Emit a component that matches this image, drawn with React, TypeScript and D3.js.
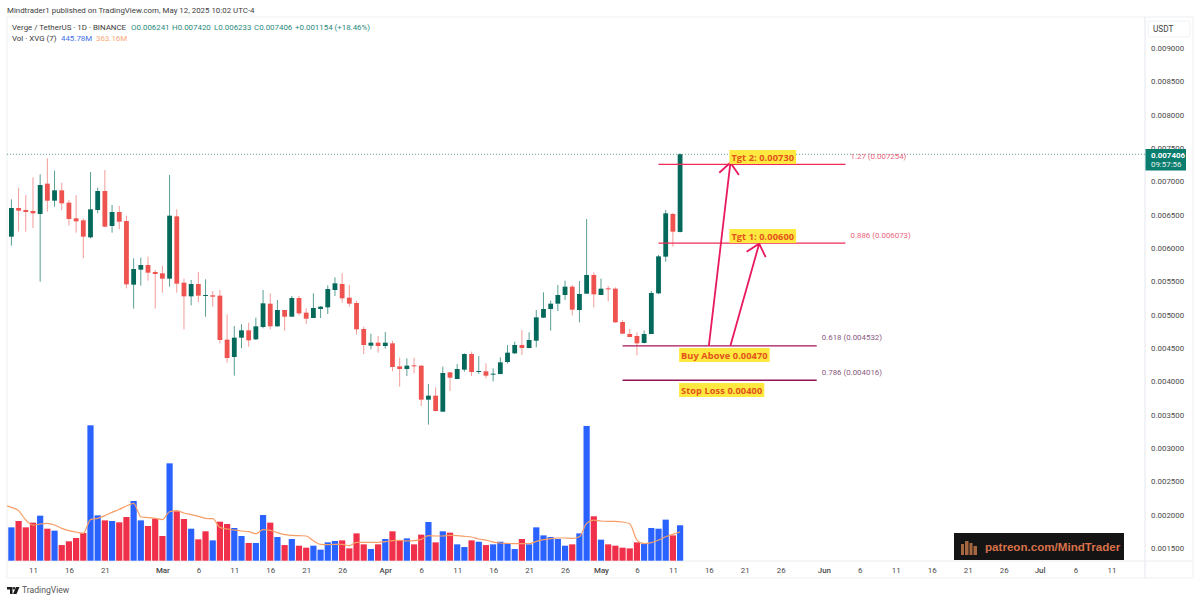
import React, { useEffect, useRef } from 'react';
import * as d3 from 'd3';

const width = 1200;
const height = 602;

// daily candles, first one is Feb 8 2025
const opens = [
  0.00617, 0.0066, 0.00657, 0.006555, 0.00651, 0.006965, 0.00671, 0.006865, 0.00668, 0.006445,
  0.006415, 0.00616, 0.00657, 0.006855, 0.00633, 0.00654, 0.006405, 0.00545, 0.005675, 0.005745,
  0.00564, 0.00562, 0.00554, 0.006475, 0.00548, 0.005275, 0.00546, 0.005285, 0.00529, 0.005285,
  0.004625, 0.004365, 0.004655, 0.004765, 0.00463, 0.004815, 0.005165, 0.004825, 0.00507, 0.00497,
  0.00525, 0.00503, 0.00495, 0.005085, 0.00511, 0.00537, 0.00546, 0.005255, 0.005175, 0.004785,
  0.004535, 0.00458, 0.00453, 0.00457, 0.004225, 0.004185, 0.00424, 0.004235, 0.003725, 0.003785,
  0.003545, 0.004135, 0.004035, 0.004175, 0.00441, 0.00414, 0.00415, 0.0041, 0.00411, 0.00429,
  0.00442, 0.004545, 0.0045, 0.00461, 0.004955, 0.005085, 0.005165, 0.005295, 0.00542, 0.00507,
  0.005315, 0.005595, 0.005295, 0.005395, 0.00539, 0.00489, 0.00471, 0.00468, 0.004575, 0.00471,
  0.00532, 0.00587, 0.00651, 0.006241,
];
const highs = [
  0.00673, 0.006905, 0.006795, 0.00706, 0.007105, 0.007345, 0.00716, 0.00698, 0.00672, 0.006795,
  0.006445, 0.00714, 0.006905, 0.00717, 0.006645, 0.00663, 0.006485, 0.005845, 0.005855, 0.00587,
  0.00567, 0.005735, 0.007095, 0.00658, 0.00554, 0.00552, 0.00564, 0.00553, 0.005355, 0.00537,
  0.005005, 0.00483, 0.004855, 0.00488, 0.004955, 0.00537, 0.00532, 0.00522, 0.00507, 0.00528,
  0.00528, 0.005095, 0.00532, 0.00513, 0.00544, 0.00556, 0.00562, 0.005445, 0.00521, 0.00482,
  0.004715, 0.00468, 0.00474, 0.00461, 0.004355, 0.004345, 0.004355, 0.00424, 0.00396, 0.00391,
  0.00422, 0.004135, 0.00426, 0.00442, 0.004445, 0.00438, 0.00427, 0.004195, 0.00436, 0.004545,
  0.004595, 0.00477, 0.004735, 0.00507, 0.005335, 0.00521, 0.005445, 0.00551, 0.005445, 0.005505,
  0.006435, 0.005635, 0.00554, 0.00543, 0.00541, 0.00492, 0.004785, 0.004735, 0.00476, 0.005355,
  0.005895, 0.00657, 0.00653, 0.00742,
];
const lows = [
  0.006035, 0.006245, 0.006245, 0.0063, 0.005495, 0.006545, 0.00662, 0.00657, 0.006335, 0.00623,
  0.005845, 0.006145, 0.00652, 0.00631, 0.00623, 0.00628, 0.005395, 0.00509, 0.005435, 0.00551,
  0.00509, 0.00533, 0.00542, 0.00533, 0.00478, 0.00514, 0.00519, 0.00497, 0.00512, 0.00457,
  0.00428, 0.004085, 0.004495, 0.00452, 0.00462, 0.004795, 0.00478, 0.00482, 0.00476, 0.00497,
  0.00499, 0.00486, 0.00495, 0.00495, 0.00501, 0.00528, 0.00518, 0.00512, 0.0047, 0.00441,
  0.00448, 0.00443, 0.00449, 0.00415, 0.00392, 0.00408, 0.00412, 0.00363, 0.00335, 0.003545,
  0.003545, 0.003855, 0.004035, 0.004145, 0.00408, 0.00411, 0.004045, 0.004, 0.004105, 0.00427,
  0.00441, 0.004395, 0.004495, 0.00451, 0.00495, 0.00476, 0.005055, 0.00522, 0.00499, 0.004885,
  0.00531, 0.00511, 0.005295, 0.0052, 0.00488, 0.00471, 0.00466, 0.00439, 0.00457, 0.00471,
  0.00531, 0.005795, 0.00602, 0.006233,
];
const closes = [
  0.0066, 0.00656, 0.00654, 0.00652, 0.006945, 0.00671, 0.006865, 0.00667, 0.006435, 0.0064,
  0.00617, 0.00658, 0.006855, 0.00632, 0.00654, 0.006395, 0.005455, 0.005685, 0.005745, 0.00563,
  0.00561, 0.00554, 0.006485, 0.005465, 0.005275, 0.00546, 0.005285, 0.005295, 0.00527, 0.00462,
  0.00435, 0.004655, 0.004765, 0.004615, 0.004825, 0.00517, 0.004825, 0.00507, 0.00497, 0.00525,
  0.00502, 0.00494, 0.0051, 0.00512, 0.005385, 0.00547, 0.005245, 0.005165, 0.00478, 0.004545,
  0.00458, 0.00453, 0.00458, 0.004215, 0.004185, 0.004235, 0.004225, 0.003725, 0.003785, 0.003555,
  0.004125, 0.004055, 0.004185, 0.00441, 0.00414, 0.004155, 0.004085, 0.004115, 0.004285, 0.00443,
  0.004545, 0.0045, 0.00462, 0.00496, 0.005085, 0.005165, 0.005295, 0.00542, 0.005075, 0.00531,
  0.005595, 0.005305, 0.00539, 0.00538, 0.004885, 0.004715, 0.004665, 0.00457, 0.00471, 0.005325,
  0.005875, 0.00652, 0.006245, 0.007406,
];

// volume in millions
const volumes = [
  420, 500, 420, 479, 567, 403, 378, 197, 244, 286,
  349, 1705, 571, 508, 500, 483, 550, 752, 508, 437,
  529, 311, 1226, 622, 525, 403, 269, 370, 256, 491,
  462, 412, 311, 223, 223, 575, 479, 298, 197, 273,
  189, 164, 189, 139, 231, 248, 256, 155, 344, 206,
  147, 206, 273, 370, 256, 281, 206, 328, 487, 231,
  370, 353, 206, 172, 256, 239, 197, 206, 239, 214,
  147, 273, 206, 420, 319, 298, 273, 189, 206, 344,
  1697, 559, 265, 206, 189, 164, 155, 231, 214, 412,
  403, 517, 319, 446,
];
// 1 = blue bar, 0 = red bar
const volumeUp = [
  1, 0, 0, 0, 1, 0, 1, 0, 0, 0,
  0, 1, 1, 0, 1, 0, 0, 1, 1, 0,
  0, 0, 1, 0, 0, 1, 0, 0, 1, 0,
  0, 1, 1, 0, 1, 1, 0, 1, 0, 1,
  0, 0, 1, 1, 1, 1, 0, 0, 0, 0,
  1, 0, 1, 0, 0, 1, 0, 0, 1, 0,
  1, 0, 1, 1, 0, 1, 0, 1, 1, 1,
  1, 0, 1, 1, 1, 1, 1, 1, 0, 1,
  1, 0, 1, 0, 0, 0, 0, 0, 1, 1,
  1, 1, 0, 1,
];
// volume MA, starts one bar earlier (Feb 7)
const volumeMa = [
  693, 672, 630, 512, 449, 462, 470, 449, 407, 378,
  361, 344, 517, 533, 567, 609, 647, 689, 722, 554,
  542, 533, 517, 617, 630, 601, 580, 559, 533, 529,
  420, 399, 386, 374, 365, 340, 391, 382, 353, 328,
  319, 315, 311, 252, 206, 202, 206, 206, 189, 231,
  231, 231, 231, 239, 252, 256, 248, 252, 269, 315,
  311, 311, 319, 315, 307, 298, 273, 260, 235, 223,
  218, 214, 214, 214, 244, 265, 277, 286, 286, 281,
  302, 470, 512, 500, 496, 496, 487, 466, 260, 214,
  227, 260, 302, 332, 363,
];

const priceTicks = [
  0.009, 0.0085, 0.008, 0.0075, 0.007, 0.0065, 0.006, 0.0055, 0.005,
  0.0045, 0.004, 0.0035, 0.003, 0.0025, 0.002, 0.0015,
];
const timeTicks = [
  '2025-02-11', '2025-02-16', '2025-02-21', '2025-03-01', '2025-03-06', '2025-03-11',
  '2025-03-16', '2025-03-21', '2025-03-26', '2025-04-01', '2025-04-06', '2025-04-11',
  '2025-04-16', '2025-04-21', '2025-04-26', '2025-05-01', '2025-05-06', '2025-05-11',
  '2025-05-16', '2025-05-21', '2025-05-26', '2025-06-01', '2025-06-06', '2025-06-11',
  '2025-06-16', '2025-06-21', '2025-06-26', '2025-07-01', '2025-07-06', '2025-07-11',
];

// drawn levels: price, first and last bar, fib text, colours
const levelPrices = [0.007254, 0.006073, 0.004532, 0.004016];
const levelFromBar = [90, 90, 85, 85];
const levelToBar = [116, 116, 112, 112];
const levelTexts = ['1.27 (0.007254)', '0.886 (0.006073)', '0.618 (0.004532)', '0.786 (0.004016)'];
const levelColors = ['#ee2c55', '#ee2c55', '#a8145c', '#8f1558'];
const levelTextColors = ['#e8667c', '#e8667c', '#8a5a80', '#8a5a80'];

const noteTexts = ['Tgt 2: 0.00730', 'Tgt 1: 0.00600', 'Buy Above 0.00470', 'Stop Loss 0.00400'];
const noteBars = [100, 100, 93, 93];
const noteBoxPrices = [0.00747, 0.006285, 0.0045, 0.003975];

// arrows: bar and price of tail and tip
const arrowTails = [[97, 0.004532], [100, 0.004532]];
const arrowTips = [[100, 0.00728], [104, 0.006065]];

const ui = 'Roboto, sans-serif';
const uiSize = 7.9;
const green = '#04695a';
const red = '#ef5350';

const barDate = (i: number) => new Date(Date.UTC(2025, 1, 8 + i));

export default function App() {
  const svgRef = useRef<SVGSVGElement>(null);

  useEffect(() => {
    if (!svgRef.current) return;
    const svg = d3.select(svgRef.current);
    svg.selectAll('*').remove();

    const paneLeft = 7;
    const paneRight = 1145;
    const paneTop = 17;
    const paneBottom = 561;
    const frameRight = 1193;
    const frameBottom = 578;

    const x = d3.scaleUtc()
      .domain([barDate(0), new Date(Date.UTC(2025, 6, 11))])
      .range([11.4, 1111.5]);
    const y = d3.scaleLinear().domain([0.0015, 0.009]).range([548, 48]);
    const yVol = d3.scaleLinear().domain([0, 1705]).range([560.7, 425.3]);
    const xBar = (i: number) => x(barDate(i));

    svg.append('rect').attr('width', width).attr('height', height).attr('fill', '#fff');

    svg.append('text')
      .attr('x', 7).attr('y', 13)
      .attr('font-family', ui).attr('font-size', uiSize).attr('fill', '#3d3d3d')
      .text('Mindtrader1 published on TradingView.com, May 12, 2025 10:02 UTC-4');

    // frame
    svg.append('rect')
      .attr('x', paneLeft).attr('y', paneTop)
      .attr('width', frameRight - paneLeft).attr('height', frameBottom - paneTop)
      .attr('fill', 'none').attr('stroke', '#eef0f3');
    svg.append('line')
      .attr('x1', paneRight).attr('x2', paneRight).attr('y1', paneTop).attr('y2', frameBottom)
      .attr('stroke', '#e3e6ec');
    svg.append('line')
      .attr('x1', paneLeft).attr('x2', frameRight).attr('y1', paneBottom).attr('y2', paneBottom)
      .attr('stroke', '#e9ecf0');

    svg.append('defs').append('clipPath').attr('id', 'pane')
      .append('rect')
      .attr('x', paneLeft).attr('y', paneTop)
      .attr('width', paneRight - paneLeft).attr('height', paneBottom - paneTop);
    const g = svg.append('g').attr('clip-path', 'url(#pane)');

    // volume bars
    const barW = 6.2;
    g.append('g').selectAll('rect')
      .data(volumes)
      .join('rect')
      .attr('x', (_, i) => xBar(i) - barW / 2)
      .attr('y', d => yVol(d))
      .attr('width', barW)
      .attr('height', d => yVol(0) - yVol(d))
      .attr('fill', (_, i) => (volumeUp[i] ? '#2962ff' : '#f0304a'));

    // volume MA
    const maLine = d3.line<number>()
      .x((_, i) => xBar(i - 1))
      .y(d => yVol(d))
      .curve(d3.curveMonotoneX);
    g.append('path')
      .attr('d', maLine(volumeMa))
      .attr('fill', 'none')
      .attr('stroke', '#f79d66')
      .attr('stroke-width', 1.2);

    // last price line
    g.append('line')
      .attr('x1', paneLeft).attr('x2', paneRight)
      .attr('y1', y(closes[93])).attr('y2', y(closes[93]))
      .attr('stroke', '#5f9f95').attr('stroke-dasharray', '1 2');

    // candles
    const isUp = (i: number) => closes[i] >= opens[i];
    const bodyW = 4.8;
    const candles = g.append('g').selectAll('g')
      .data(opens)
      .join('g');
    candles.append('line')
      .attr('x1', (_, i) => xBar(i)).attr('x2', (_, i) => xBar(i))
      .attr('y1', (_, i) => y(highs[i])).attr('y2', (_, i) => y(lows[i]))
      .attr('stroke', (_, i) => (isUp(i) ? '#5a9f94' : '#f29c99'))
      .attr('stroke-width', 1);
    candles.append('rect')
      .attr('x', (_, i) => xBar(i) - bodyW / 2)
      .attr('y', (d, i) => y(Math.max(d, closes[i])))
      .attr('width', bodyW)
      .attr('height', (d, i) => Math.max(1, Math.abs(y(d) - y(closes[i]))))
      .attr('fill', (_, i) => (isUp(i) ? green : red));

    // price axis
    const yAxis = d3.axisRight(y)
      .tickValues(priceTicks)
      .tickFormat(d3.format('.6f') as any)
      .tickSize(0)
      .tickPadding(6);
    svg.append('g')
      .attr('transform', `translate(${paneRight},0)`)
      .call(yAxis)
      .call(a => a.select('.domain').remove())
      .call(a => a.selectAll('text')
        .attr('font-family', ui).attr('font-size', uiSize).attr('fill', '#4a4a4a'));

    // time axis
    const tickDates = timeTicks.map(d => new Date(d + 'T00:00:00Z'));
    const xAxis = d3.axisBottom(x)
      .tickValues(tickDates)
      .tickFormat(((d: Date) => (d.getUTCDate() === 1 ? d3.utcFormat('%b')(d) : String(d.getUTCDate()))) as any)
      .tickSize(0)
      .tickPadding(6);
    svg.append('g')
      .attr('transform', `translate(0,${paneBottom})`)
      .call(xAxis)
      .call(a => a.select('.domain').remove())
      .call(a => a.selectAll('text')
        .attr('font-family', ui).attr('font-size', uiSize).attr('fill', '#4a4a4a')
        .attr('font-weight', (d: any) => (d.getUTCDate() === 1 ? 500 : 400)));

    // USDT box
    svg.append('rect')
      .attr('x', 1148).attr('y', 21).attr('width', 42).attr('height', 16).attr('rx', 2)
      .attr('fill', '#fff').attr('stroke', '#f0f2f5');
    svg.append('text')
      .attr('x', 1153).attr('y', 32)
      .attr('font-family', ui).attr('font-size', 8.2).attr('fill', '#444')
      .text('USDT');

    // last price tag
    svg.append('rect')
      .attr('x', 1145.5).attr('y', 149).attr('width', 40.5).attr('height', 21.5)
      .attr('fill', '#0b7d6e');
    svg.append('text')
      .attr('x', 1151).attr('y', 158)
      .attr('font-family', ui).attr('font-size', uiSize).attr('font-weight', 700).attr('fill', '#fff')
      .text(d3.format('.6f')(closes[93]));
    svg.append('text')
      .attr('x', 1151).attr('y', 167)
      .attr('font-family', ui).attr('font-size', uiSize).attr('fill', '#e6f4f1')
      .text('09:57:56');

    // legend
    const legend = svg.append('g').attr('font-family', ui).attr('font-size', uiSize);
    legend.append('text').attr('x', 12).attr('y', 30).attr('fill', '#3a3a3a')
      .text('Verge / TetherUS · 1D · BINANCE');
    const ohlc = [
      [131, 'O0.006241'], [172, 'H0.007420'], [214, 'L0.006233'],
      [254, 'C0.007406'], [295, '+0.001154 (+18.46%)'],
    ] as const;
    ohlc.forEach(([lx, t]) => {
      legend.append('text').attr('x', lx).attr('y', 30).attr('fill', '#2a8a7c').text(t);
    });
    legend.append('text').attr('x', 12).attr('y', 41).attr('fill', '#3a3a3a').text('Vol · XVG (7)');
    legend.append('text').attr('x', 61).attr('y', 41).attr('fill', '#3f6fe8').text('445.78M');
    legend.append('text').attr('x', 96).attr('y', 41).attr('fill', '#f7a678').text('363.16M');

    // fib levels
    levelPrices.forEach((p, i) => {
      svg.append('line')
        .attr('x1', xBar(levelFromBar[i])).attr('x2', xBar(levelToBar[i]))
        .attr('y1', y(p)).attr('y2', y(p))
        .attr('stroke', levelColors[i]).attr('stroke-width', 1.3);
      svg.append('text')
        .attr('x', xBar(levelToBar[i]) + 5)
        .attr('y', y(p) - 5.5)
        .attr('font-family', ui).attr('font-size', uiSize)
        .attr('fill', levelTextColors[i])
        .text(levelTexts[i]);
    });

    // arrows
    arrowTails.forEach((tail, i) => {
      const x0 = xBar(tail[0]);
      const y0 = y(tail[1]);
      const x1 = xBar(arrowTips[i][0]);
      const y1 = y(arrowTips[i][1]);
      const angle = Math.atan2(y1 - y0, x1 - x0);
      const barb = (da: number) => [x1 - 15 * Math.cos(angle + da), y1 - 15 * Math.sin(angle + da)];
      const [ax, ay] = barb(0.72);
      const [bx, by] = barb(-0.72);
      svg.append('path')
        .attr('d', `M${x0},${y0}L${x1},${y1}M${ax},${ay}L${x1},${y1}L${bx},${by}`)
        .attr('fill', 'none')
        .attr('stroke', '#e8195c')
        .attr('stroke-width', 1.8);
    });

    // yellow notes
    noteTexts.forEach((t, i) => {
      const note = svg.append('g');
      const label = note.append('text')
        .attr('x', xBar(noteBars[i]) + 1)
        .attr('y', y(noteBoxPrices[i]) + 10.5)
        .attr('font-family', '"Open Sans", sans-serif')
        .attr('font-size', 9.2).attr('font-weight', 700)
        .attr('letter-spacing', 0.1)
        .attr('fill', '#e2521b')
        .text(t);
      const box = (label.node() as SVGTextElement).getBBox();
      note.insert('rect', 'text')
        .attr('x', xBar(noteBars[i]) - 1)
        .attr('y', y(noteBoxPrices[i]))
        .attr('width', box.width + 4)
        .attr('height', 14)
        .attr('fill', '#ffe83f');
    });

    // watermark
    const mark = svg.append('g');
    mark.append('rect')
      .attr('x', 954).attr('y', 533).attr('width', 170).attr('height', 27)
      .attr('fill', '#141414');
    [[961, 544, 3, 11], [965, 541, 3.5, 14], [969.5, 543, 3, 12], [973.5, 546, 3.5, 9]].forEach(([bx, by, bw, bh]) => {
      mark.append('rect')
        .attr('x', bx).attr('y', by).attr('width', bw).attr('height', bh)
        .attr('fill', '#a4673f');
    });
    mark.append('text')
      .attr('x', 985).attr('y', 551)
      .attr('font-family', '"Liberation Sans", Arial, sans-serif')
      .attr('font-size', 11.6).attr('font-weight', 700).attr('fill', '#d8714a')
      .text('patreon.com/MindTrader');

    // TradingView mark
    const logo = svg.append('g').attr('fill', '#1c1c1c');
    logo.append('path').attr('d', 'M7,587H12.5V594H10V589.4H7Z');
    logo.append('circle').attr('cx', 14).attr('cy', 588.2).attr('r', 1.2);
    logo.append('path').attr('d', 'M16,587H19.5L16.5,594H13Z');
    svg.append('text')
      .attr('x', 22).attr('y', 593)
      .attr('font-family', ui).attr('font-size', 8.6).attr('fill', '#555')
      .text('TradingView');
  }, []);

  return (
    <svg
      ref={svgRef}
      width={width}
      height={height}
      style={{ position: 'absolute', left: 0, top: 0, display: 'block' }}
    />
  );
}
